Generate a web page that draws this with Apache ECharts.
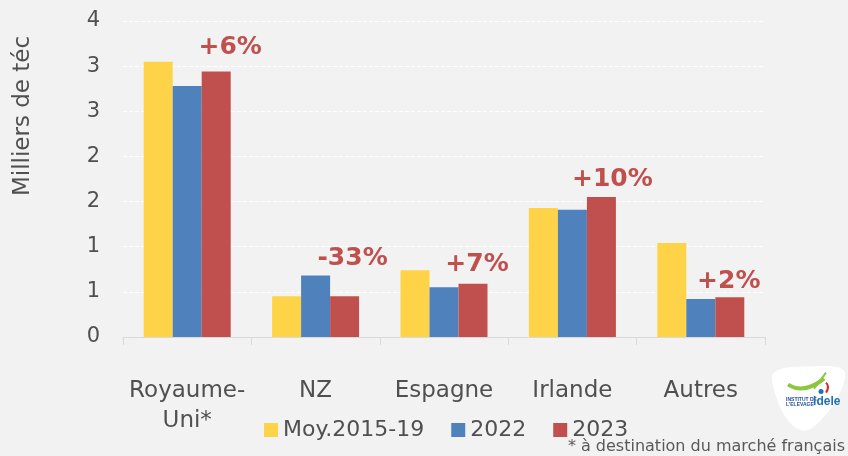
<!DOCTYPE html>
<html><head><meta charset="utf-8">
<script src="https://cdn.jsdelivr.net/npm/echarts@6/dist/echarts.min.js"></script>
<style>html,body{margin:0;padding:0;background:#F2F2F2}#c{width:848px;height:456px}</style>
</head><body><div id="c"></div>
<script>
const categories = ['Royaume-\nUni*', 'NZ', 'Espagne', 'Irlande', 'Autres'];
const seriesNames = ['Moy.2015-19', '2022', '2023'];
const moy2015_19 = [3.05, 0.45, 0.74, 1.43, 1.04];
const y2022 = [2.78, 0.68, 0.55, 1.41, 0.42];
const y2023 = [2.94, 0.45, 0.59, 1.55, 0.44];
const changeLabels = ['+6%', '-33%', '+7%', '+10%', '+2%'];
const yTickLabels = ['0', '1', '1', '2', '2', '3', '3', '4'];
const yAxisTitle = 'Milliers de téc';
const footnote = '* à destination du marché français';

const FONT = 'DejaVu Sans';
const TXT = '#505050';
const colors = ['#FFD347', '#4F81BD', '#C0504D'];
const labelOffsets = [[14, -7], [8, -20], [4, -2], [11, 0], [-1, 2]];

const chart = echarts.init(document.getElementById('c'), null, {renderer: 'canvas'});
const redData = y2023.map((v, i) => ({
  value: v,
  label: {show: true, position: 'top', formatter: changeLabels[i], offset: labelOffsets[i]}
}));
chart.setOption({
  backgroundColor: '#F2F2F2',
  animation: false,
  textStyle: {fontFamily: FONT},
  grid: {left: 123, right: 83, top: 21, bottom: 119},
  legend: {
    data: seriesNames, left: 259, top: 414, itemWidth: 14, itemHeight: 14, itemGap: 27,
    icon: 'rect',
    textStyle: {fontSize: 22, color: TXT, fontFamily: FONT}
  },
  xAxis: {
    type: 'category', data: categories,
    axisLine: {show: true, lineStyle: {color: '#D9D9D9', width: 1}},
    axisTick: {show: true, length: 8, lineStyle: {color: '#D9D9D9'}},
    axisLabel: {interval: 0, fontSize: 23, color: TXT, margin: 39, lineHeight: 30, fontFamily: FONT}
  },
  yAxis: {
    type: 'value', min: 0, max: 3.5, interval: 0.5,
    axisLine: {show: false}, axisTick: {show: false},
    splitLine: {lineStyle: {color: '#FFFFFF', type: [4, 2], width: 1}},
    axisLabel: {
      fontSize: 21, color: TXT, margin: 23, fontFamily: FONT,
      formatter: (v) => yTickLabels[Math.round(v / 0.5)]
    }
  },
  series: [
    {name: seriesNames[0], type: 'bar', data: moy2015_19, barWidth: 29, barGap: '0%', itemStyle: {color: colors[0]}},
    {name: seriesNames[1], type: 'bar', data: y2022, barWidth: 29, barGap: '0%', itemStyle: {color: colors[1]}},
    {name: seriesNames[2], type: 'bar', data: redData, barWidth: 29, barGap: '0%', itemStyle: {color: colors[2]},
      label: {fontSize: 25, fontWeight: 'bold', color: '#C0504D', fontFamily: FONT}}
  ],
  graphic: [
    {type: 'text', x: 23, y: 116, rotation: Math.PI / 2, style: {text: yAxisTitle, fontSize: 23, fill: TXT, fontFamily: FONT, align: 'center', verticalAlign: 'middle'}},
    {type: 'text', right: 3, top: 439, style: {text: footnote, fontSize: 16, fill: '#595959', fontFamily: FONT}},
    {type: 'group', left: 772, top: 366, children: [
      {type: 'polygon', shape: {points: [[2, 6], [36, 0], [72, 4], [64, 34], [42, 60], [30, 64], [16, 54], [4, 30]], smooth: 0.35}, style: {fill: '#FFFFFF'}},
      {type: 'bezierCurve', shape: {x1: 16, y1: 18, x2: 52, y2: 12, cpx1: 32, cpy1: 28}, style: {stroke: '#8DC63F', lineWidth: 4, fill: null}},
      {type: 'line', shape: {x1: 42, y1: 22, x2: 54, y2: 6}, style: {stroke: '#8DC63F', lineWidth: 2}},
      {type: 'bezierCurve', shape: {x1: 54, y1: 16, x2: 54, y2: 26, cpx1: 58, cpy1: 20}, style: {stroke: '#E2231A', lineWidth: 2, fill: null}},
      {type: 'circle', shape: {cx: 49, cy: 25, r: 2.5}, style: {fill: '#1F6FB5'}},
      {type: 'text', x: 14, y: 31, style: {text: 'INSTITUT DE\nL\'ELEVAGE', fontSize: 5, fill: '#1F4E9A', fontWeight: 'bold', lineHeight: 5}},
      {type: 'text', x: 41, y: 29, style: {text: 'idele', fontSize: 12, fill: '#1F6FB5', fontWeight: 'bold'}}
    ]}
  ]
});
</script></body></html>
